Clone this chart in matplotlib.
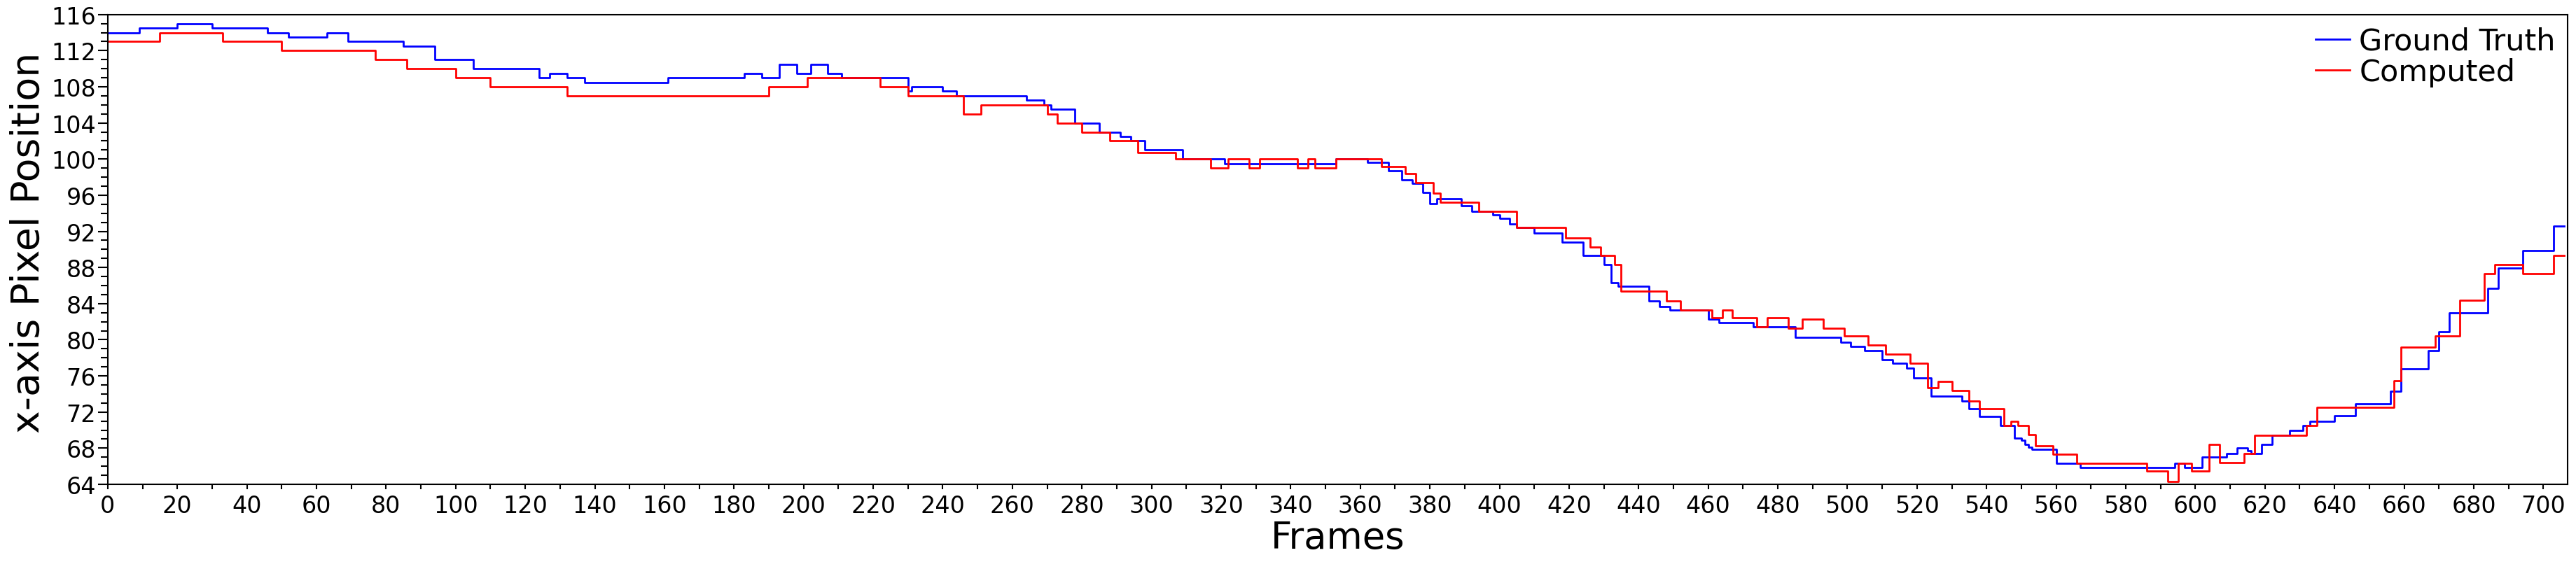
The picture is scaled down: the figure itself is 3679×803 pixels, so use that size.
import matplotlib
matplotlib.use('Agg')
import matplotlib.pyplot as plt
from matplotlib.ticker import MultipleLocator

# frame where each level starts, and the level (x pixel) from that frame on
gt_frames = [0, 9, 20, 30, 46, 52, 63, 69, 85, 94, 105, 124, 127, 132, 137, 161, 183, 188, 193, 198,
             202, 207, 211, 230, 231, 240, 244, 264, 269, 271, 278, 285, 291, 294, 298, 309, 321, 353,
             362, 368, 372, 375, 378, 380, 382, 389, 392, 398, 400, 403, 405, 410, 418, 424, 430, 432,
             434, 443, 446, 449, 460, 463, 473, 485, 498, 501, 505, 510, 513, 517, 519, 524, 533, 535,
             538, 544, 548, 550, 551, 552, 553, 560, 567, 594, 597, 602, 609, 612, 615, 616, 619, 622,
             627, 631, 633, 640, 646, 656, 659, 667, 670, 673, 684, 687, 694, 703]
gt_values = [114, 114.5, 115, 114.5, 114, 113.5, 114, 113, 112.5, 111, 110, 109, 109.5, 109, 108.5, 109,
             109.5, 109, 110.5, 109.5, 110.5, 109.5, 109, 107.5, 108, 107.5, 107, 106.5, 106, 105.5, 104,
             103, 102.5, 102, 101, 100, 99.5, 100, 99.6, 98.7, 97.7, 97.3, 96.3, 95.1, 95.6, 94.8, 94.2,
             93.8, 93.4, 92.8, 92.4, 91.8, 90.8, 89.3, 88.3, 86.3, 85.9, 84.3, 83.7, 83.3, 82.3, 81.9,
             81.4, 80.3, 79.7, 79.3, 78.8, 77.8, 77.4, 76.9, 75.8, 73.8, 73.2, 72.4, 71.5, 70.5, 69.1,
             68.9, 68.4, 68.1, 67.9, 66.3, 65.9, 66.3, 65.9, 67.0, 67.4, 68.0, 67.7, 67.4, 68.4, 69.4,
             70.0, 70.5, 71.0, 71.6, 72.9, 74.3, 76.8, 78.8, 80.9, 83.0, 85.7, 87.9, 89.9, 92.6]

comp_frames = [0, 15, 33, 50, 77, 86, 100, 110, 132, 190, 201, 222, 230, 246, 251, 270, 273, 280, 288,
               296, 307, 317, 322, 328, 331, 342, 345, 347, 353, 366, 373, 376, 381, 383, 394, 405, 419,
               426, 429, 433, 435, 448, 452, 461, 464, 467, 474, 477, 483, 487, 493, 499, 506, 511, 518,
               523, 526, 530, 535, 538, 545, 547, 549, 552, 554, 559, 566, 586, 592, 595, 599, 604, 607,
               614, 617, 632, 635, 657, 659, 669, 676, 683, 686, 694, 703]
comp_values = [113, 114, 113, 112, 111, 110, 109, 108, 107, 108, 109, 108, 107, 105, 106, 105, 104, 103,
               102, 100.7, 100, 99, 100, 99, 100, 99, 100, 99, 100, 99.2, 98.4, 97.4, 96.2, 95.2, 94.2,
               92.4, 91.3, 90.3, 89.3, 88.3, 85.4, 84.3, 83.3, 82.4, 83.3, 82.4, 81.4, 82.4, 81.3, 82.3,
               81.3, 80.4, 79.4, 78.4, 77.4, 74.7, 75.4, 74.4, 73.2, 72.4, 70.5, 71.0, 70.5, 69.5, 68.3,
               67.3, 66.3, 65.5, 64.3, 66.3, 65.5, 68.4, 66.4, 67.4, 69.4, 70.5, 72.5, 75.5, 79.2, 80.4,
               84.4, 87.3, 88.3, 87.3, 89.3]

last_frame = 706


def main():
    plt.rcParams['font.family'] = 'DejaVu Sans'
    fig = plt.figure(figsize=(36.8, 8.04), dpi=100)
    ax = fig.add_axes([0.0418, 0.138, 0.9547, 0.835])

    ax.plot(gt_frames + [last_frame], gt_values + [gt_values[-1]], color='#0000ff',
            lw=2.0, drawstyle='steps-post', label='Ground Truth')
    ax.plot(comp_frames + [last_frame], comp_values + [comp_values[-1]], color='#ff0000',
            lw=2.0, drawstyle='steps-post', label='Computed')

    ax.set_xlim(0, 707)
    ax.set_ylim(64, 116)
    ax.xaxis.set_major_locator(MultipleLocator(20))
    ax.xaxis.set_minor_locator(MultipleLocator(10))
    ax.yaxis.set_major_locator(MultipleLocator(4))
    ax.yaxis.set_minor_locator(MultipleLocator(1))

    ax.tick_params(axis='both', which='both', direction='out', width=1.5, labelsize=24)
    ax.tick_params(axis='y', which='major', length=10, pad=2)
    ax.tick_params(axis='y', which='minor', length=7)
    ax.tick_params(axis='x', which='both', length=5, pad=5)
    for s in ax.spines.values():
        s.set_linewidth(1.5)

    ax.set_xlabel('Frames', fontsize=38)
    ax.set_ylabel('x-axis Pixel Position', fontsize=40)
    ax.xaxis.set_label_coords(0.5, -0.075)
    ax.yaxis.set_label_coords(-0.0245, 0.516)

    ax.legend(loc='upper right', frameon=False, fontsize=31, handlelength=1.14,
              handletextpad=0.3, labelspacing=0.05, borderaxespad=0.2, borderpad=0.2)

    fig.savefig('out.png', dpi=100)


if __name__ == "__main__":
    main()
